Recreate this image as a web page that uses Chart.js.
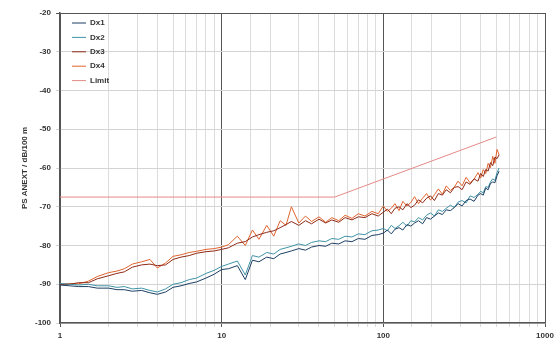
<!DOCTYPE html>
<html>
<head>
<meta charset="utf-8">
<script src="https://cdn.jsdelivr.net/npm/chart.js@4"></script>
<style>
  html, body { margin: 0; padding: 0; background: #fff; }
  .chart-box { width: 555px; height: 343px; }
</style>
</head>
<body>
<div class="chart-box"><canvas id="chart"></canvas></div>
<script>
// frequency points (MHz), shared by the four measured pairs
const freqs = [1, 1.15, 1.3, 1.5, 1.7, 2, 2.25, 2.5, 2.8, 3.2, 3.6, 4, 4.5, 5, 5.6, 6.3, 7, 8, 9, 10,
  11, 12.5, 14, 15.5, 17, 19, 21, 23, 25, 27, 30, 33, 36, 40, 44, 48, 53, 58, 64, 70,
  77, 85, 93,
  100, 106, 112, 118, 125, 132, 140, 148, 156, 165, 175, 185, 196, 207, 219, 232, 245, 260, 275, 290,
  307, 325, 344, 364, 385, 400, 415, 430, 445, 460, 475, 490, 505, 520];

const dx1 = [-90.2, -90.4, -90.6, -90.6, -91.0, -91.0, -91.4, -91.4, -91.8, -91.6, -92.2, -92.6, -92.0, -90.8, -90.4, -89.8, -89.4, -88.4, -87.4, -86.2,
  -86.0, -85.2, -88.8, -83.8, -84.2, -83.0, -83.4, -82.2, -81.8, -81.4, -80.8, -81.2, -80.4, -80.0, -80.2, -79.4, -79.6, -78.8, -79.0, -78.2,
  -78.4, -77.4, -77.2,
  -76.8, -76.0, -77.0, -75.8, -75.4, -76.0, -74.6, -75.0, -74.2, -73.6, -74.4, -72.8, -73.2, -72.4, -71.6, -72.0, -70.8, -71.0, -70.2, -69.2,
  -69.8, -68.4, -68.0, -68.6, -67.0, -66.6, -67.0, -65.2, -65.6, -64.0, -63.6, -63.8, -62.0, -60.8];
const dx2 = [-89.8, -90.0, -90.2, -90.0, -90.4, -90.4, -90.8, -90.6, -91.2, -91.0, -91.6, -92.0, -91.2, -90.0, -89.6, -88.8, -88.4, -87.2, -86.4, -85.4,
  -84.8, -84.0, -87.6, -82.6, -83.0, -81.8, -82.2, -81.0, -80.6, -80.2, -79.6, -80.0, -79.2, -78.8, -79.0, -78.2, -78.4, -77.6, -77.8, -77.0,
  -77.2, -76.2, -76.0,
  -75.6, -76.2, -74.8, -75.6, -74.9, -74.0, -75.0, -73.6, -73.9, -72.8, -73.4, -72.2, -71.6, -72.4, -70.8, -71.2, -70.4, -69.6, -70.2, -68.8,
  -68.4, -69.0, -67.2, -67.6, -66.8, -66.0, -66.4, -64.8, -65.0, -63.6, -62.8, -63.2, -61.2, -60.0];
const dx3 = [-90.1, -90.0, -89.6, -89.6, -88.6, -87.8, -87.2, -86.8, -85.6, -85.0, -84.8, -85.2, -85.0, -83.6, -83.0, -82.6, -82.0, -81.6, -81.4, -81.0,
  -80.6, -79.4, -79.0, -77.8, -77.2, -76.6, -76.2, -75.4, -74.6, -73.8, -74.8, -73.6, -74.4, -73.2, -74.2, -73.4, -74.0, -72.8, -73.4, -72.6,
  -72.8, -71.8, -72.4,
  -71.4, -70.6, -71.8, -70.4, -70.0, -70.8, -69.2, -70.2, -69.6, -68.2, -69.0, -67.8, -67.2, -68.4, -66.6, -67.0, -65.6, -66.4, -65.0, -64.8,
  -65.6, -63.6, -64.2, -62.8, -63.4, -61.4, -62.2, -60.4, -60.8, -58.6, -59.4, -57.2, -57.6, -56.6];
const dx4 = [-90.0, -89.8, -89.9, -89.2, -88.0, -87.0, -86.6, -86.0, -84.8, -84.2, -83.6, -85.8, -84.5, -82.8, -82.4, -81.8, -81.5, -81.0, -80.8, -80.4,
  -79.8, -77.6, -80.0, -76.0, -78.4, -74.8, -77.6, -73.6, -74.8, -70.0, -74.2, -72.4, -73.8, -72.6, -74.0, -72.8, -73.6, -72.2, -73.0, -71.8,
  -72.4, -71.2, -71.8,
  -69.8, -71.2, -70.4, -69.2, -71.0, -68.6, -69.8, -68.9, -67.4, -69.2, -67.8, -66.6, -68.3, -66.9, -65.4, -66.8, -64.6, -65.8, -64.9, -63.4,
  -64.6, -62.4, -63.8, -62.9, -61.2, -62.6, -60.4, -61.4, -58.8, -59.9, -57.0, -58.8, -55.2, -56.6];

const limitFreqs = [1, 50, 500];
const limitVals = [-67.5, -67.5, -52];

const xTicks = [1, 10, 100, 1000];
const yMin = -100, yMax = -20, yStep = 10;

const pts = (xs, ys) => xs.map((x, i) => ({ x: x, y: ys[i] }));

// legend drawn inside the plot, top-left, as a vertical list
const insideLegend = {
  id: 'insideLegend',
  afterDraw(chart) {
    const ctx = chart.ctx;
    const area = chart.chartArea;
    ctx.save();
    ctx.font = 'bold 8px "Liberation Sans", Arial, sans-serif';
    ctx.textBaseline = 'middle';
    chart.data.datasets.forEach((ds, i) => {
      const y = area.top + 10 + i * 14.4;
      ctx.strokeStyle = ds.borderColor;
      ctx.lineWidth = 1;
      ctx.beginPath();
      ctx.moveTo(area.left + 12, y);
      ctx.lineTo(area.left + 26, y);
      ctx.stroke();
      ctx.fillStyle = '#333';
      ctx.fillText(ds.label, area.left + 30, y);
    });
    ctx.restore();
  }
};

const isDecade = v => Math.abs(Math.log10(v) - Math.round(Math.log10(v))) < 1e-6;

new Chart(document.getElementById('chart'), {
  type: 'line',
  data: {
    datasets: [
      { label: 'Dx1', data: pts(freqs, dx1), borderColor: '#1d3f63' },
      { label: 'Dx2', data: pts(freqs, dx2), borderColor: '#3f93a6' },
      { label: 'Dx3', data: pts(freqs, dx3), borderColor: '#8e2a16' },
      { label: 'Dx4', data: pts(freqs, dx4), borderColor: '#e0642e' },
      { label: 'Limit', data: pts(limitFreqs, limitVals), borderColor: '#e58a86' }
    ].map(ds => Object.assign(ds, { borderWidth: 1, pointRadius: 0, tension: 0, fill: false }))
  },
  options: {
    animation: false,
    responsive: true,
    maintainAspectRatio: false,
    layout: { padding: { top: 13, right: 10, left: 0, bottom: 0 } },
    plugins: {
      legend: { display: false },
      tooltip: { enabled: false }
    },
    scales: {
      x: {
        type: 'logarithmic',
        min: 1,
        max: 1000,
        border: { color: '#555', width: 1.5 },
        grid: {
          color: c => (c.tick && isDecade(c.tick.value)) ? '#555' : '#dcdcdc',
          lineWidth: 1,
          tickLength: 4
        },
        ticks: {
          autoSkip: false,
          maxRotation: 0,
          padding: 4,
          color: '#333',
          font: { size: 8, weight: 'bold', family: '"Liberation Sans", Arial, sans-serif' },
          callback: v => xTicks.includes(v) ? String(v) : ''
        },
        afterFit: s => { s.height = 20; s.paddingLeft = 0; s.paddingRight = 0; }
      },
      y: {
        min: yMin,
        max: yMax,
        border: { color: '#555', width: 1.5 },
        grid: {
          color: c => (c.tick && (c.tick.value === yMax)) ? '#555' : '#d4d4d4',
          lineWidth: 1,
          tickLength: 4
        },
        ticks: {
          stepSize: yStep,
          padding: 5,
          color: '#333',
          font: { size: 8, weight: 'bold', family: '"Liberation Sans", Arial, sans-serif' }
        },
        title: {
          display: true,
          text: 'PS ANEXT / dB/100 m',
          color: '#333',
          padding: { top: 20, bottom: 0 },
          font: { size: 8, weight: 'bold', family: '"Liberation Sans", Arial, sans-serif' }
        },
        afterFit: s => { s.width = 60; s.paddingTop = 0; s.paddingBottom = 0; }
      }
    }
  },
  plugins: [insideLegend]
});
</script>
</body>
</html>
